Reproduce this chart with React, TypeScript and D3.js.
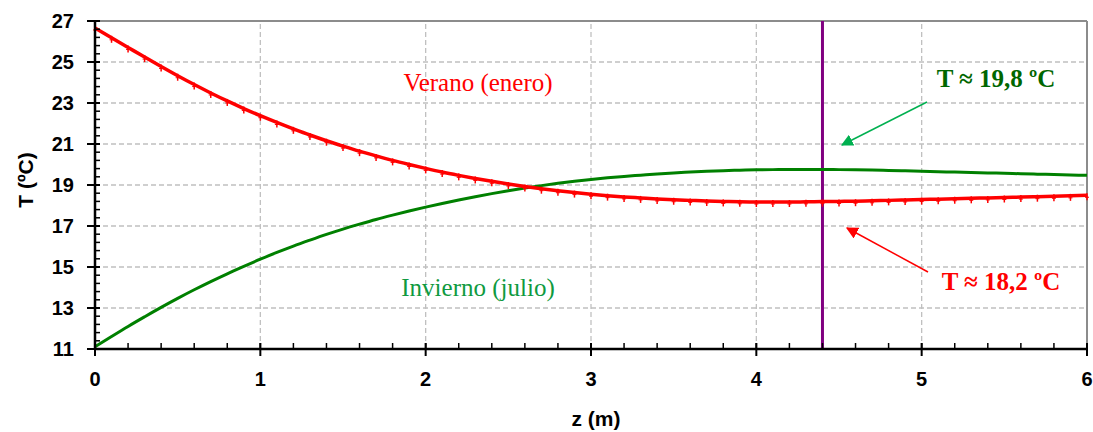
import React from "react";
import * as d3 from "d3";

const zValues = d3.range(0, 61).map((i) => +(i * 0.1).toFixed(1));

const summerT = [
  26.66, 26.18, 25.71, 25.24, 24.78, 24.33, 23.9, 23.49, 23.1, 22.73,
  22.38, 22.05, 21.74, 21.44, 21.16, 20.9, 20.65, 20.42, 20.2, 20.0,
  19.81, 19.63, 19.47, 19.32, 19.18, 19.05, 18.93, 18.82, 18.72, 18.63,
  18.55, 18.48, 18.42, 18.37, 18.32, 18.28, 18.25, 18.22, 18.2, 18.18,
  18.17, 18.17, 18.17, 18.18, 18.19, 18.2, 18.21, 18.23, 18.25, 18.27,
  18.29, 18.31, 18.33, 18.35, 18.37, 18.39, 18.41, 18.43, 18.45, 18.47,
  18.5,
];

const winterT = [
  11.11, 11.61, 12.1, 12.57, 13.03, 13.47, 13.89, 14.29, 14.67, 15.03,
  15.38, 15.71, 16.02, 16.31, 16.59, 16.85, 17.09, 17.32, 17.53, 17.73,
  17.92, 18.1, 18.27, 18.43, 18.58, 18.72, 18.85, 18.97, 19.08, 19.18,
  19.27, 19.35, 19.42, 19.48, 19.54, 19.59, 19.63, 19.67, 19.7, 19.72,
  19.74, 19.75, 19.76, 19.76, 19.76, 19.75, 19.74, 19.73, 19.71, 19.69,
  19.67, 19.65, 19.63, 19.61, 19.59, 19.57, 19.55, 19.53, 19.51, 19.49,
  19.47,
];

const xTicks = [0, 1, 2, 3, 4, 5, 6];
const yTicks = [11, 13, 15, 17, 19, 21, 23, 25, 27];
const xMinor = d3.range(0, 30.5).map((i) => +(i * 0.2).toFixed(1));
const yMinor = d3.range(0, 40.5).map((i) => +(11 + i * 0.4).toFixed(1));
const markerZ = 4.4;

const labelSummer = "Verano (enero)";
const labelWinter = "Invierno (julio)";
const noteWinter = "T ≈ 19,8 ºC";
const noteSummer = "T ≈ 18,2 ºC";

export default function App() {
  const W = 1093;
  const H = 432;
  const x = d3.scaleLinear().domain([0, 6]).range([95, 1087]);
  const y = d3.scaleLinear().domain([11, 27]).range([349, 21]);

  const line = d3
    .line<number>()
    .x((_, i) => x(zValues[i]))
    .y((d) => y(d))
    .curve(d3.curveMonotoneX);

  const axisFont = "'Liberation Sans', Arial, sans-serif";
  const serif = "'Liberation Serif', 'Times New Roman', serif";

  return (
    <svg
      width={W}
      height={H}
      style={{ position: "absolute", left: 0, top: 0, background: "#fff" }}
    >
      <defs>
        <marker id="arrG" viewBox="0 0 10 10" refX="9" refY="5" markerWidth="12" markerHeight="12" markerUnits="userSpaceOnUse" orient="auto">
          <path d="M0,0 L10,5 L0,10 z" fill="#00b050" />
        </marker>
        <marker id="arrR" viewBox="0 0 10 10" refX="9" refY="5" markerWidth="12" markerHeight="12" markerUnits="userSpaceOnUse" orient="auto">
          <path d="M0,0 L10,5 L0,10 z" fill="#ff0000" />
        </marker>
      </defs>

      {/* grid */}
      {yTicks.slice(1, -1).map((t) => (
        <line key={"gy" + t} x1={x(0)} x2={x(6)} y1={y(t)} y2={y(t)} stroke="#c0c0c0" strokeWidth={1.3} strokeDasharray="5,3" />
      ))}
      {xTicks.slice(1, -1).map((t) => (
        <line key={"gx" + t} x1={x(t)} x2={x(t)} y1={y(11)} y2={y(27)} stroke="#c0c0c0" strokeWidth={1.3} strokeDasharray="5,3" />
      ))}
      {/* frame top/right */}
      <line x1={x(0)} x2={x(6)} y1={y(27)} y2={y(27)} stroke="#8c8c8c" strokeWidth={2} />
      <line x1={x(6)} x2={x(6)} y1={y(27)} y2={y(11)} stroke="#8c8c8c" strokeWidth={2} />

      {/* purple line */}
      <line x1={x(markerZ)} x2={x(markerZ)} y1={y(27)} y2={y(11)} stroke="#800080" strokeWidth={3} />

      {/* series */}
      <path d={line(winterT) || ""} fill="none" stroke="#008000" strokeWidth={3} />
      <path d={line(summerT) || ""} fill="none" stroke="#ff0000" strokeWidth={3.5} />
      {summerT.map((v, i) => (
        <g key={"m" + i}>
          <line x1={x(zValues[i])} x2={x(zValues[i])} y1={y(v) - 2} y2={y(v) + 5} stroke="#ff0000" strokeWidth={1.5} />
          <line x1={x(zValues[i]) - 2} x2={x(zValues[i]) + 2} y1={y(v) + 2} y2={y(v) + 2} stroke="#ff0000" strokeWidth={1} />
        </g>
      ))}

      {/* axes */}
      <line x1={x(0)} x2={x(0)} y1={y(27) - 1} y2={y(11) + 1} stroke="#000" strokeWidth={2.5} />
      <line x1={x(0) - 1} x2={x(6) + 1} y1={y(11)} y2={y(11)} stroke="#000" strokeWidth={2.5} />
      {yMinor.map((t) => (
        <line key={"ym" + t} x1={x(0)} x2={x(0) + 5} y1={y(t)} y2={y(t)} stroke="#000" strokeWidth={1.5} />
      ))}
      {yTicks.map((t) => (
        <g key={"yt" + t}>
          <line x1={x(0) - 8} x2={x(0) + 5} y1={y(t)} y2={y(t)} stroke="#000" strokeWidth={2} />
          <text x={x(0) - 21} y={y(t)} dy="0.36em" textAnchor="end" fontFamily={axisFont} fontWeight="bold" fontSize={20} fill="#000">
            {t}
          </text>
        </g>
      ))}
      {xMinor.map((t) => (
        <line key={"xm" + t} x1={x(t)} x2={x(t)} y1={y(11)} y2={y(11) - 6} stroke="#000" strokeWidth={1.5} />
      ))}
      {xTicks.map((t) => (
        <g key={"xt" + t}>
          <line x1={x(t)} x2={x(t)} y1={y(11) - 6} y2={y(11) + 7} stroke="#000" strokeWidth={2} />
          <text x={x(t)} y={386} textAnchor="middle" fontFamily={axisFont} fontWeight="bold" fontSize={20} fill="#000">
            {t}
          </text>
        </g>
      ))}

      {/* axis titles */}
      <text x={596} y={426} textAnchor="middle" fontFamily={axisFont} fontWeight="bold" fontSize={21} fill="#000">
        z (m)
      </text>
      <text transform="translate(33,180) rotate(-90)" textAnchor="middle" fontFamily={axisFont} fontWeight="bold" fontSize={21} fill="#000">
        T (ºC)
      </text>

      {/* labels */}
      <text x={478} y={91} textAnchor="middle" fontFamily={serif} fontSize={25} fill="#ff0000">
        {labelSummer}
      </text>
      <text x={478} y={296} textAnchor="middle" fontFamily={serif} fontSize={25} fill="#0f9a40">
        {labelWinter}
      </text>
      <text x={996} y={87} textAnchor="middle" fontFamily={serif} fontWeight="bold" fontSize={25} fill="#006600">
        {noteWinter}
      </text>
      <text x={1001} y={290} textAnchor="middle" fontFamily={serif} fontWeight="bold" fontSize={25} fill="#ff0000">
        {noteSummer}
      </text>

      {/* arrows */}
      <line x1={927} y1={102} x2={842} y2={145} stroke="#00b050" strokeWidth={1.5} markerEnd="url(#arrG)" />
      <line x1={928} y1={272} x2={847} y2={228} stroke="#ff0000" strokeWidth={1.5} markerEnd="url(#arrR)" />
    </svg>
  );
}
